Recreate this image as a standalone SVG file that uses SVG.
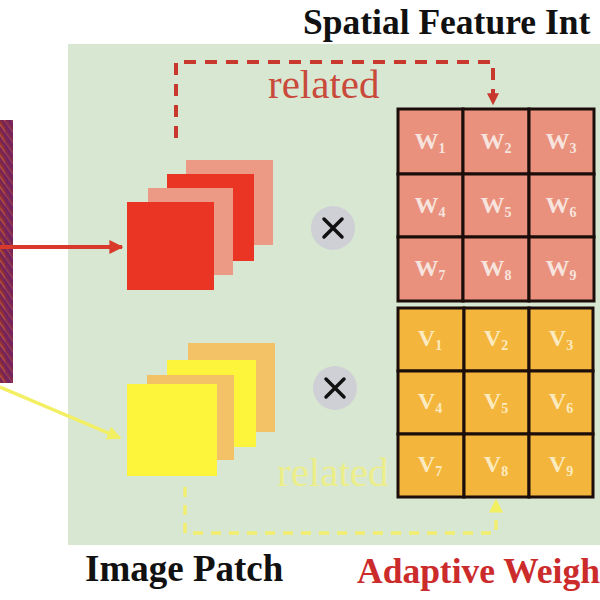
<svg xmlns="http://www.w3.org/2000/svg" width="600" height="600" viewBox="0 0 600 600">
<defs>
<linearGradient id="strip" x1="0" y1="0" x2="1" y2="0">
<stop offset="0" stop-color="#b0502a"/>
<stop offset="0.45" stop-color="#8a2a3a"/>
<stop offset="1" stop-color="#6a1f6a"/>
</linearGradient>
<pattern id="hatch" width="6" height="6" patternUnits="userSpaceOnUse" patternTransform="rotate(-35)">
<rect width="6" height="6" fill="url(#strip)"/>
<line x1="0" y1="0" x2="0" y2="6" stroke="#d0606a" stroke-width="1.2" opacity="0.7"/>
</pattern>
<marker id="arrRed" viewBox="0 0 10 10" refX="9" refY="5" markerWidth="3.5" markerHeight="3.5" orient="auto">
<path d="M0,0 L10,5 L0,10 z" fill="#d9392b"/>
</marker>
<marker id="arrRedD" viewBox="0 0 10 10" refX="9" refY="5" markerWidth="3" markerHeight="3" orient="auto">
<path d="M0,0 L10,5 L0,10 z" fill="#c8382c"/>
</marker>
<marker id="arrYel" viewBox="0 0 10 10" refX="9" refY="5" markerWidth="4" markerHeight="4" orient="auto">
<path d="M0,0 L10,5 L0,10 z" fill="#f3ef62"/>
</marker>
<style>
.bold{font-family:"Liberation Serif","Times New Roman",serif;font-weight:bold;}
.rel{font-family:"Liberation Serif","Times New Roman",serif;font-size:41px;}
.cellW{fill:#e9917d;stroke:#1a0d0a;stroke-width:3;}
.cellV{fill:#f4b53c;stroke:#1a0d0a;stroke-width:3;}
.lblW{font-family:"Liberation Serif","Times New Roman",serif;font-weight:bold;font-size:24px;fill:#f7e4de;}
.lblV{font-family:"Liberation Serif","Times New Roman",serif;font-weight:bold;font-size:24px;fill:#fcebc0;}
.sub{font-size:14px;}
.red{fill:#ea3424;}
.salmon{fill:#ec9a86;}
.yel{fill:#fdf43c;}
.tan{fill:#f4c266;}
.times{fill:#cfcfd6;}
.x{stroke:#111;stroke-width:3.5;stroke-linecap:round;}
</style>
</defs>
<rect width="600" height="600" fill="#ffffff"/>
<rect id="panel" x="68" y="44" width="532" height="501" fill="#d8e7d2"/>

<g id="input-strip">
<rect x="0" y="120" width="13" height="263" fill="url(#hatch)"/>
<rect x="5" y="120" width="8" height="263" fill="#6b2070" opacity="0.4"/>
</g>

<g id="connectors">
<line x1="0" y1="247" x2="122" y2="247" stroke="#d9392b" stroke-width="4" marker-end="url(#arrRed)"/>
<line x1="0" y1="387" x2="120" y2="438" stroke="#f3ef62" stroke-width="3.5" marker-end="url(#arrYel)"/>
<path d="M176,138 V62 H493 V104" fill="none" stroke="#c8382c" stroke-width="4" stroke-dasharray="12 9" marker-end="url(#arrRedD)"/>
<path d="M185,487 V533 H496 V500" fill="none" stroke="#f2ee70" stroke-width="3.5" stroke-dasharray="10 8" marker-end="url(#arrYel)"/>
</g>

<g id="red-patch">
<rect class="salmon" x="186" y="160" width="87" height="85"/>
<rect class="red" x="167" y="174" width="87" height="87"/>
<rect class="salmon" x="148" y="188" width="85" height="87"/>
<rect class="red" x="127" y="202" width="87" height="88"/>
</g>

<g id="yellow-patch">
<rect class="tan" x="188" y="343" width="87" height="89"/>
<rect class="yel" x="167" y="360" width="89" height="87"/>
<rect class="tan" x="147" y="375" width="87" height="85"/>
<rect class="yel" x="127" y="384" width="90" height="92"/>
</g>

<g id="mult-top">
<circle class="times" cx="333" cy="228" r="22"/>
<path class="x" d="M324,219 L342,237 M342,219 L324,237"/>
</g>
<g id="mult-bottom">
<circle class="times" cx="335" cy="388" r="22"/>
<path class="x" d="M326,379 L344,397 M344,379 L326,397"/>
</g>

<g id="related-top">
<text class="rel" x="268" y="98" fill="#c9493b">related</text>
</g>
<g id="related-bottom">
<text class="rel" x="277" y="486" fill="#ecee8a">related</text>
</g>

<g id="W-grid">
<rect class="cellW" x="398" y="109" width="65" height="65"/>
<rect class="cellW" x="463" y="109" width="66" height="65"/>
<rect class="cellW" x="529" y="109" width="65" height="65"/>
<rect class="cellW" x="398" y="174" width="65" height="63"/>
<rect class="cellW" x="463" y="174" width="66" height="63"/>
<rect class="cellW" x="529" y="174" width="65" height="63"/>
<rect class="cellW" x="398" y="237" width="65" height="64"/>
<rect class="cellW" x="463" y="237" width="66" height="64"/>
<rect class="cellW" x="529" y="237" width="65" height="64"/>
<text class="lblW" x="430" y="149" text-anchor="middle">W<tspan class="sub" dy="4">1</tspan></text>
<text class="lblW" x="496" y="149" text-anchor="middle">W<tspan class="sub" dy="4">2</tspan></text>
<text class="lblW" x="561" y="149" text-anchor="middle">W<tspan class="sub" dy="4">3</tspan></text>
<text class="lblW" x="430" y="213" text-anchor="middle">W<tspan class="sub" dy="4">4</tspan></text>
<text class="lblW" x="496" y="213" text-anchor="middle">W<tspan class="sub" dy="4">5</tspan></text>
<text class="lblW" x="561" y="213" text-anchor="middle">W<tspan class="sub" dy="4">6</tspan></text>
<text class="lblW" x="430" y="276" text-anchor="middle">W<tspan class="sub" dy="4">7</tspan></text>
<text class="lblW" x="496" y="276" text-anchor="middle">W<tspan class="sub" dy="4">8</tspan></text>
<text class="lblW" x="561" y="276" text-anchor="middle">W<tspan class="sub" dy="4">9</tspan></text>
</g>

<g id="V-grid">
<rect class="cellV" x="398" y="308" width="66" height="63"/>
<rect class="cellV" x="464" y="308" width="65" height="63"/>
<rect class="cellV" x="529" y="308" width="64" height="63"/>
<rect class="cellV" x="398" y="371" width="66" height="63"/>
<rect class="cellV" x="464" y="371" width="65" height="63"/>
<rect class="cellV" x="529" y="371" width="64" height="63"/>
<rect class="cellV" x="398" y="434" width="66" height="63"/>
<rect class="cellV" x="464" y="434" width="65" height="63"/>
<rect class="cellV" x="529" y="434" width="64" height="63"/>
<text class="lblV" x="430" y="346" text-anchor="middle">V<tspan class="sub" dy="4">1</tspan></text>
<text class="lblV" x="496" y="346" text-anchor="middle">V<tspan class="sub" dy="4">2</tspan></text>
<text class="lblV" x="561" y="346" text-anchor="middle">V<tspan class="sub" dy="4">3</tspan></text>
<text class="lblV" x="430" y="409" text-anchor="middle">V<tspan class="sub" dy="4">4</tspan></text>
<text class="lblV" x="496" y="409" text-anchor="middle">V<tspan class="sub" dy="4">5</tspan></text>
<text class="lblV" x="561" y="409" text-anchor="middle">V<tspan class="sub" dy="4">6</tspan></text>
<text class="lblV" x="430" y="472" text-anchor="middle">V<tspan class="sub" dy="4">7</tspan></text>
<text class="lblV" x="496" y="472" text-anchor="middle">V<tspan class="sub" dy="4">8</tspan></text>
<text class="lblV" x="561" y="472" text-anchor="middle">V<tspan class="sub" dy="4">9</tspan></text>
</g>

<g id="titles">
<text class="bold" x="303" y="34" font-size="35.5" fill="#111">Spatial Feature Int</text>
<text class="bold" x="85" y="581" font-size="37" fill="#111">Image Patch</text>
<text class="bold" x="357" y="583" font-size="35.5" fill="#cc2b2b">Adaptive Weigh</text>
</g>
</svg>
